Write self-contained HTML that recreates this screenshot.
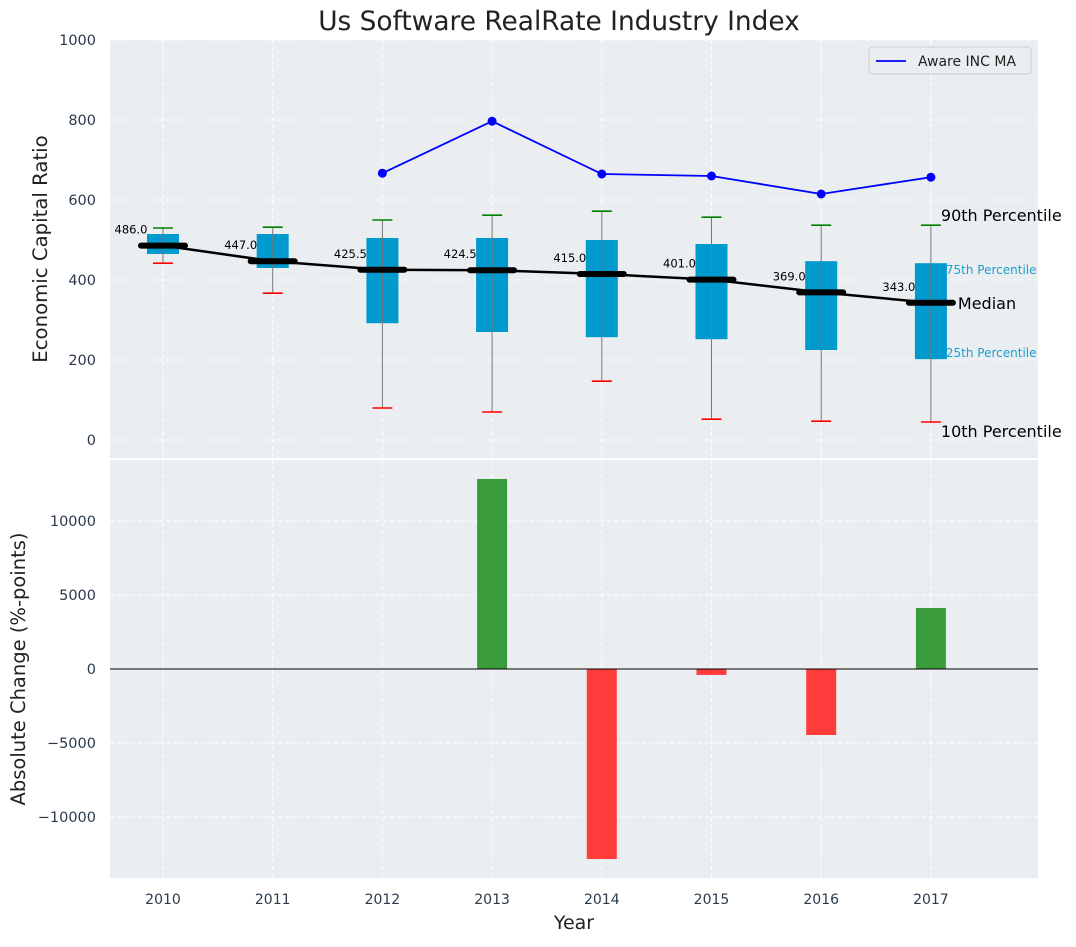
<!DOCTYPE html>
<html><head><meta charset="utf-8"><style>
body{margin:0;background:#fff;font-family:"Liberation Sans","DejaVu Sans",sans-serif}
svg text{font-family:"DejaVu Sans","Liberation Sans",sans-serif}
</style></head><body>
<svg id="c" width="1076" height="942" xmlns="http://www.w3.org/2000/svg"></svg>
<script>
const years=[2010,2011,2012,2013,2014,2015,2016,2017];
const medians=[486,447,425.5,424.5,415,401,369,343];
const q1=[465,430,292,270,257,252,225,202];
const q3=[515,515,505,505,500,490,447,442];
const p10=[442,367,80,70,147,52,47,45];
const p90=[530,532,550,562,572,557,537,537];
const maYears=[2012,2013,2014,2015,2016,2017];
const maVals=[667,797,665,660,615,657];
const changeYears=[2013,2014,2015,2016,2017];
const changes=[12840,-12840,-400,-4460,4120];
const topTicks=[0,200,400,600,800,1000];
const botTicks=[-10000,-5000,0,5000,10000];

const NS='http://www.w3.org/2000/svg';
const svg=document.getElementById('c');
function el(t,a,txt){const e=document.createElementNS(NS,t);for(const k in a)e.setAttribute(k,a[k]);if(txt!==undefined)e.textContent=txt;svg.appendChild(e);return e;}
const L=110,R=1038;
const x=i=>163+(i-2010)*109.7;
const yT=v=>440-v*0.4;
const yB=v=>669-v*0.0148;

let p=el('rect',{x:L,y:40,width:R-L,height:418,fill:'#eaeef0'});

p=el('rect',{x:L,y:460,width:R-L,height:418,fill:'#eaeef0'});


years.forEach(yr=>{
 el('line',{x1:x(yr),x2:x(yr),y1:40,y2:458,stroke:'#fff','stroke-dasharray':'4,3','stroke-width':1});
 el('line',{x1:x(yr),x2:x(yr),y1:460,y2:878,stroke:'#fff','stroke-dasharray':'4,3','stroke-width':1});
 const t=el('text',{x:x(yr),y:904,'text-anchor':'middle','font-size':14,fill:'#2b3a4a'},yr);
 
});
topTicks.forEach(v=>{
 el('line',{x1:L,x2:R,y1:yT(v),y2:yT(v),stroke:'#fff','stroke-dasharray':'4,3'});
 const t=el('text',{x:96,y:yT(v)+5,'text-anchor':'end','font-size':14.5,fill:'#2b3a4a'},v);
 
});
botTicks.forEach(v=>{
 el('line',{x1:L,x2:R,y1:yB(v),y2:yB(v),stroke:'#fff','stroke-dasharray':'4,3'});
 const t=el('text',{x:96,y:yB(v)+5,'text-anchor':'end','font-size':14.5,fill:'#2b3a4a'},v<0?'\u2212'+(-v):v);
 
});

years.forEach((yr,i)=>{
 const cx=x(yr);
 let b=el('rect',{x:cx-16,y:yT(q3[i]),width:32,height:yT(q1[i])-yT(q3[i]),fill:'#009ace'});
 
 el('line',{x1:cx,x2:cx,y1:yT(p90[i]),y2:yT(p10[i]),stroke:'#777','stroke-width':1});
 el('line',{x1:cx-10,x2:cx+10,y1:yT(p90[i]),y2:yT(p90[i]),stroke:'green','stroke-width':1.6});
 el('line',{x1:cx-10,x2:cx+10,y1:yT(p10[i]),y2:yT(p10[i]),stroke:'red','stroke-width':1.6});
});
let pl=el('polyline',{points:years.map((yr,i)=>x(yr)+','+yT(medians[i])).join(' '),fill:'none',stroke:'#000','stroke-width':2.5});

years.forEach((yr,i)=>{
 const cx=x(yr);
 const m=el('line',{x1:cx-22,x2:cx+22,y1:yT(medians[i]),y2:yT(medians[i]),stroke:'#000','stroke-width':6,'stroke-linecap':'round'});
 
 const t=el('text',{x:cx-32,y:yT(medians[i])-12,'text-anchor':'middle','font-size':11.5,fill:'#000'},medians[i].toFixed(1));
 
});
pl=el('polyline',{points:maYears.map((yr,i)=>x(yr)+','+yT(maVals[i])).join(' '),fill:'none',stroke:'blue','stroke-width':1.8});

maYears.forEach((yr,i)=>{const c=el('circle',{cx:x(yr),cy:yT(maVals[i]),r:4.5,fill:'blue'});});

const last=years.length-1,lx=x(years[last]);
[['90th Percentile',lx+10,yT(p90[last])-4,16,'#000'],['75th Percentile',lx+15,yT(q3[last])+11,12,'#1a9fd0'],['Median',lx+27,yT(medians[last])+6,16,'#000'],['25th Percentile',lx+15,yT(q1[last])-2,12,'#1a9fd0'],['10th Percentile',lx+10,yT(p10[last])+15,16,'#000']].forEach(a=>{
 const t=el('text',{x:a[1],y:a[2],'font-size':a[3],fill:a[4]},a[0]);
 
});

let g=el('rect',{x:869,y:47,width:162,height:27,rx:3,fill:'#eaeef0',stroke:'#ccc'});

el('line',{x1:876,x2:906,y1:61,y2:61,stroke:'blue','stroke-width':1.8});
g=el('text',{x:918,y:66,'font-size':14,fill:'#222'},'Aware INC MA');


changeYears.forEach((yr,i)=>{
 const v=changes[i];
 const b=el('rect',{x:x(yr)-15,y:Math.min(yB(v),yB(0)),width:30,height:Math.abs(yB(v)-yB(0)),fill:v>=0?'#3a9b3a':'#ff3b3b'});
 
});
el('line',{x1:L,x2:R,y1:yB(0),y2:yB(0),stroke:'#000','stroke-width':1});

let t=el('text',{x:559,y:30,'text-anchor':'middle','font-size':26.4,fill:'#222'},'Us Software RealRate Industry Index');

t=el('text',{x:0,y:0,'text-anchor':'middle','font-size':19.7,fill:'#222',transform:'translate(47,249) rotate(-90)'},'Economic Capital Ratio');

t=el('text',{x:0,y:0,'text-anchor':'middle','font-size':19.5,fill:'#222',transform:'translate(25,669) rotate(-90)'},'Absolute Change (%-points)');

t=el('text',{x:574,y:929,'text-anchor':'middle','font-size':19,fill:'#222'},'Year');

</script>
</body></html>
